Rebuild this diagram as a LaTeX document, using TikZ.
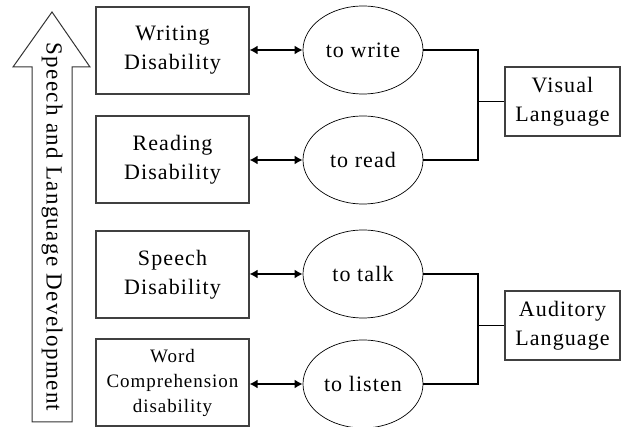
\documentclass[tikz,border=0pt]{standalone}
\usepackage{fontspec}
\setmainfont{Liberation Serif}[LetterSpace=5]
\usetikzlibrary{shapes.geometric,arrows.meta}
\begin{document}
\begin{tikzpicture}[x=1pt,y=-1pt,
  box/.style={draw=black!75,line width=1.1pt,minimum width=153pt,minimum height=87pt,inner sep=0pt,align=center,font=\fontsize{22}{29}\selectfont},
  oval/.style={draw,ellipse,line width=0.7pt,minimum width=120pt,minimum height=88pt,inner sep=0pt,font=\fontsize{22}{29}\selectfont},
  langbox/.style={draw=black!75,line width=1.1pt,minimum width=115pt,minimum height=69pt,inner sep=0pt,align=center,font=\fontsize{22}{29}\selectfont},
  dbl/.style={{Latex[length=8pt,width=9pt]}-{Latex[length=8pt,width=9pt]},line width=1.8pt},
  conn/.style={line width=1.4pt}]
\useasboundingbox (0,0) rectangle (622,427);
% big arrow
\draw[line width=1pt,draw=black!80] (52,12) -- (90,67) -- (72,67) -- (72,422) -- (32,422) -- (32,67) -- (13,67) -- cycle;
\node[rotate=-90,font=\fontsize{23}{26}\selectfont\addfontfeature{LetterSpace=6}] (dev) at (52,227) {Speech and Language Development};
% boxes
\node[box] (bw) at (172.5,50.5) {Writing\\Disability};
\node[box] (br) at (172.5,159.5) {Reading\\Disability};
\node[box] (bs) at (172.5,274.5) {Speech\\Disability};
\node[box,font=\fontsize{19}{25}\selectfont] (bc) at (172.5,382.5) {Word\\Comprehension\\disability};
% ellipses
\node[oval] (ew) at (363,50) {to write};
\node[oval] (er) at (363,160) {to read};
\node[oval] (es) at (363,274) {to talk};
\node[oval] (el) at (363,384) {to listen};
% language boxes
\node[langbox] (vis) at (562.5,101.5) {Visual\\Language};
\node[langbox] (aud) at (562.5,325.5) {Auditory\\Language};
% double arrows
\draw[dbl] (bw.east |- ew.west) -- (ew.west);
\draw[dbl] (br.east |- er.west) -- (er.west);
\draw[dbl] (bs.east |- es.west) -- (es.west);
\draw[dbl] (bc.east |- el.west) -- (el.west);
% connectors
\coordinate (jv) at (478,101.5);
\coordinate (ja) at (478,325.5);
\draw[conn] (ew.east) -| (jv) -- (vis.west);
\draw[conn] (er.east) -| (jv);
\draw[conn] (es.east) -| (ja) -- (aud.west);
\draw[conn] (el.east) -| (ja);
\end{tikzpicture}
\end{document}
